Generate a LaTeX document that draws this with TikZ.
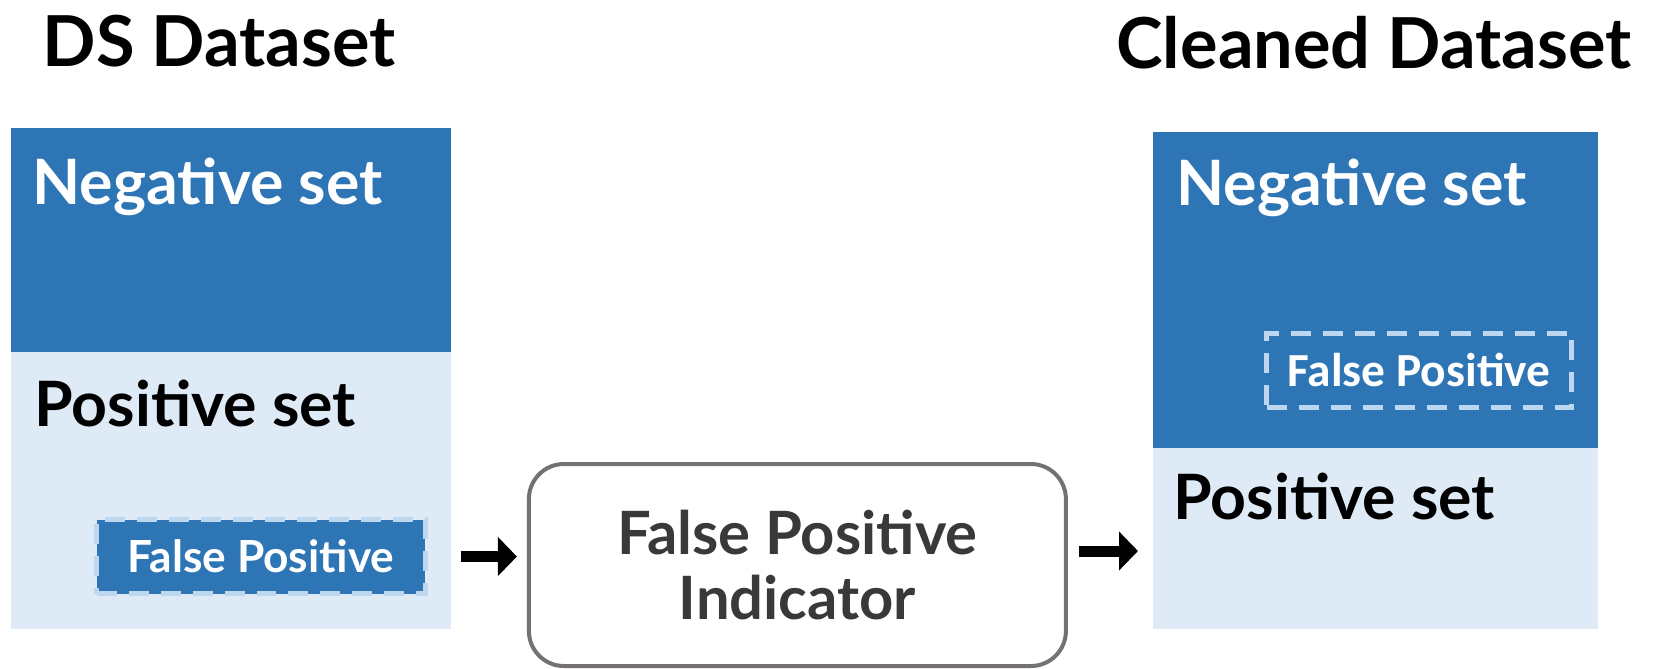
\documentclass[tikz,border=0pt]{standalone}
\usepackage{fontspec}
\setmainfont{Lato}
\newfontfamily\calibrifont{Carlito}
\usetikzlibrary{arrows.meta,positioning}
\definecolor{setblue}{HTML}{2E75B6}
\definecolor{setpale}{HTML}{DEEBF7}
\definecolor{fpdash}{HTML}{BDD7EE}
\definecolor{boxgray}{HTML}{767171}
\definecolor{txtgray}{HTML}{3B3838}
\begin{document}
\begin{tikzpicture}[x=0.1mm,y=-0.1mm,>=Stealth,
  panel/.style={inner sep=0pt,outer sep=0pt,anchor=north west,minimum width=44.05mm},
  title/.style={anchor=base,inner sep=0pt,font=\fontsize{20}{24}\selectfont\bfseries},
  setlabel/.style={anchor=base west,inner sep=0pt,font=\fontsize{17.8}{21}\selectfont\bfseries},
  fpbox/.style={draw=fpdash,fill=setblue,line width=0.5mm,dash pattern=on 2mm off 1.2mm,
    text=white,inner sep=0pt,minimum height=7.4mm},
  bigarrow/.style={-{Triangle[length=1.9mm,width=3.8mm]},line width=1.1mm}]
\useasboundingbox (0,0) rectangle (1654,668);
\node[title] (dstitle) at (219,66) {DS Dataset};
\node[title] (cltitle) at (1374,68) {Cleaned Dataset};
% DS dataset
\node[panel,fill=setblue,minimum height=22.43mm] (dsneg) at (10.5,127.7) {};
\node[panel,fill=setpale,minimum height=27.7mm] (dspos) at (10.5,352) {};
\node[setlabel,text=white] (dsnegtxt) at (32,204) {Negative set};
\node[setlabel] (dspostxt) at (34,426) {Positive set};
\node[fpbox,minimum width=32.9mm,font=\fontsize{12.6}{15}\selectfont\bfseries] (dsfp) at (261,556.5) {False Positive};
% indicator
\node[draw=boxgray,line width=0.4mm,rounded corners=3.5mm,minimum width=53.7mm,minimum height=20.2mm,
  align=center,text=txtgray,font=\fontsize{17}{18.6}\selectfont\bfseries] (fpi) at (797.4,565) {False Positive\\Indicator};
% cleaned dataset
\node[panel,fill=setblue,minimum width=44.5mm,minimum height=31.63mm] (clneg) at (1152.5,131.7) {};
\node[panel,fill=setpale,minimum width=44.5mm,minimum height=18.1mm] (clpos) at (1152.5,448) {};
\node[setlabel,text=white] (clnegtxt) at (1176,205) {Negative set};
\node[setlabel] (clpostxt) at (1173,519) {Positive set};
\node[fpbox,minimum width=30.5mm,font=\fontsize{13.5}{16}\calibrifont\bfseries] (clfp) at (1419,370.3) {False Positive};
\draw[bigarrow,shorten <=1mm,shorten >=1mm] (dspos.east |- dsfp.east) -- (fpi.west |- dsfp.east);
\draw[bigarrow,shorten <=1.1mm,shorten >=1.45mm] ([yshift=1.4mm]fpi.east) -- ([yshift=1.4mm]fpi.east -| clpos.west);
\end{tikzpicture}
\end{document}
